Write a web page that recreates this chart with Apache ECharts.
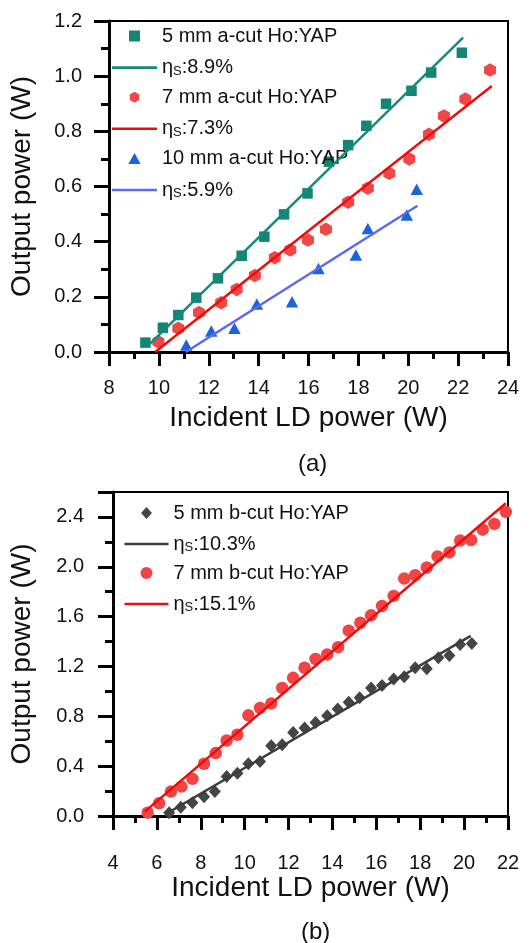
<!DOCTYPE html>
<html><head><meta charset="utf-8">
<script src="https://cdn.jsdelivr.net/npm/echarts@6/dist/echarts.min.js"></script>
<style>html,body{margin:0;padding:0;background:#fff;}#c{width:531px;height:943px;}</style>
</head><body><div id="c"></div>
<script>
// ---- Panel (a): a-cut Ho:YAP ----
const aX5 = [9.46,10.16,10.78,11.5,12.37,13.32,14.23,15.02,15.96,16.82,17.59,18.32,19.11,20.13,20.92,22.15];
const aY5 = [0.034,0.088,0.134,0.197,0.267,0.349,0.418,0.499,0.575,0.69,0.75,0.82,0.90,0.947,1.013,1.085];
const aX7 = [9.98,10.78,11.61,12.5,13.12,13.85,14.65,15.27,15.98,16.7,17.59,18.38,19.24,20.04,20.83,21.43,22.29,23.28];
const aY7 = [0.037,0.086,0.143,0.179,0.227,0.277,0.342,0.37,0.406,0.445,0.543,0.594,0.648,0.70,0.789,0.856,0.917,1.022];
const aX10 = [11.1,12.1,13.03,13.93,15.34,16.4,17.9,18.38,19.94,20.34];
const aY10 = [0.025,0.076,0.086,0.174,0.182,0.303,0.352,0.448,0.497,0.59];
const fitA5X = [9.65,22.2],  fitA5Y = [0.03,1.14];
const fitA7X = [9.85,23.35], fitA7Y = [0,0.964];
const fitA10X = [11.08,20.37], fitA10Y = [0,0.53];
const namesA = ['5 mm a-cut Ho:YAP','ηS:8.9%','7 mm a-cut Ho:YAP','ηS:7.3%','10 mm a-cut Ho:YAP','ηS:5.9%'];

// ---- Panel (b): b-cut Ho:YAP ----
const bX5 = [6.56,7.09,7.62,8.15,8.64,9.18,9.67,10.17,10.7,11.21,11.71,12.21,12.73,13.23,13.76,14.24,14.74,15.24,15.76,16.26,16.79,17.27,17.77,18.3,18.83,19.33,19.82,20.35];
const bY5 = [0.027,0.07,0.107,0.155,0.196,0.316,0.343,0.419,0.437,0.564,0.572,0.671,0.706,0.751,0.805,0.859,0.912,0.948,1.028,1.047,1.1,1.117,1.19,1.181,1.27,1.288,1.377,1.385];
const bX7 = [5.58,6.1,6.64,7.12,7.62,8.15,8.68,9.18,9.67,10.17,10.7,11.21,11.71,12.21,12.73,13.23,13.76,14.26,14.74,15.27,15.76,16.26,16.79,17.27,17.77,18.3,18.79,19.33,19.82,20.32,20.85,21.38,21.9];
const bY7 = [0.027,0.102,0.196,0.236,0.298,0.419,0.505,0.606,0.652,0.808,0.867,0.902,1.028,1.109,1.19,1.26,1.296,1.355,1.487,1.551,1.61,1.685,1.766,1.905,1.932,1.994,2.083,2.115,2.21,2.215,2.298,2.344,2.44];
const fitB5X = [6.45,20.3], fitB5Y = [0.02,1.445];
const fitB7X = [5.45,21.9], fitB7Y = [0.035,2.51];
const namesB = ['5 mm b-cut Ho:YAP','ηS:10.3%','7 mm b-cut Ho:YAP','ηS:15.1%'];

const xTitle = 'Incident LD power (W)';
const yTitle = 'Output power (W)';

const zip = (xs, ys) => xs.map((x, i) => [x, ys[i]]);
const FONT = 'Liberation Sans, Arial, sans-serif';
const hexagon = 'path://M5,0 L10,2.9 L10,8.7 L5,11.6 L0,8.7 L0,2.9 Z';
const square = 'path://M0,0 L10,0 L10,10 L0,10 Z';
const triangle = 'path://M5,0 L10,9 L0,9 Z';
const diamond = 'path://M5,0 L10,5.5 L5,11 L0,5.5 Z';
const lineIcon = 'path://M0,0 L45,0 L45,2.6 L0,2.6 Z';

function legendFmt(n) {
  if (n.charAt(0) === 'η') return '{g|η}{s|S}{g|' + n.slice(2) + '}';
  return '{g|' + n + '}';
}
const legendRich = {
  g: {fontSize: 20, fontFamily: FONT, color: '#111', lineHeight: 20},
  s: {fontSize: 13, fontFamily: FONT, color: '#111', lineHeight: 20, verticalAlign: 'bottom', padding: [9, 0, 0, 0]}
};

function xAxis(gi, min, max, labelMargin) {
  return {
    type: 'value', gridIndex: gi, min: min, max: max, interval: 2, position: 'bottom',
    name: xTitle, nameLocation: 'middle', nameGap: 52,
    nameTextStyle: {fontSize: 28, fontFamily: FONT, color: '#111'},
    axisLine: {show: true, onZero: false, lineStyle: {color: '#000', width: 3}},
    axisTick: {show: true, inside: false, length: 14, lineStyle: {color: '#000', width: 3}},
    minorTick: {show: true, splitNumber: 2, length: 7, lineStyle: {color: '#000', width: 3}},
    axisLabel: {show: true, inside: false, fontSize: 20, fontFamily: FONT, color: '#111', margin: labelMargin},
    splitLine: {show: false}, minorSplitLine: {show: false}
  };
}
function yAxis(gi, max, interval, nameGap, labelMargin) {
  return {
    type: 'value', gridIndex: gi, min: 0, max: max, interval: interval, position: 'left',
    name: yTitle, nameLocation: 'middle', nameGap: nameGap, nameRotate: 90,
    nameTextStyle: {fontSize: 28, fontFamily: FONT, color: '#111'},
    axisLine: {show: true, onZero: false, lineStyle: {color: '#000', width: 3}},
    axisTick: {show: true, inside: false, length: 15, lineStyle: {color: '#000', width: 3}},
    minorTick: {show: true, splitNumber: 2, length: 8, lineStyle: {color: '#000', width: 3}},
    axisLabel: {show: true, inside: false, fontSize: 20, fontFamily: FONT, color: '#111', margin: labelMargin,
      showMaxLabel: max === 1.2, formatter: v => v.toFixed(1)},
    splitLine: {show: false}, minorSplitLine: {show: false}
  };
}
function scatter(name, xi, data, symbol, size, color) {
  return {type: 'scatter', name: name, xAxisIndex: xi, yAxisIndex: xi, data: data,
    symbol: symbol, symbolSize: size, itemStyle: {color: color, opacity: 1}, z: 3};
}
function fitLine(name, xi, data, color) {
  return {type: 'line', name: name, xAxisIndex: xi, yAxisIndex: xi, data: data,
    symbol: 'none', showSymbol: false, lineStyle: {color: color, width: 2.5},
    itemStyle: {color: color}, z: 4};
}
function legendItems(names, icons) {
  return names.map((n, i) => ({name: n, icon: icons[i]}));
}

const option = {
  backgroundColor: '#fff',
  animation: false,
  title: [
    {text: '(a)', left: 293, top: 447, textStyle: {fontSize: 24, fontWeight: 'normal', fontFamily: FONT, color: '#111'}},
    {text: '(b)', left: 296, top: 915, textStyle: {fontSize: 24, fontWeight: 'normal', fontFamily: FONT, color: '#111'}}
  ],
  grid: [
    {left: 105, right: 23, top: 21, bottom: 591, show: true, borderColor: '#000', borderWidth: 2, backgroundColor: 'transparent'},
    {left: 112, right: 23, top: 492, bottom: 127, show: true, borderColor: '#000', borderWidth: 2, backgroundColor: 'transparent'}
  ],
  xAxis: [xAxis(0, 8, 24, 26), xAxis(1, 4, 22, 37)],
  yAxis: [yAxis(0, 1.2, 0.2, 73, 27), yAxis(1, 2.6, 0.4, 77, 29)],
  legend: [
    {data: legendItems(namesA, [square, lineIcon, hexagon, lineIcon, triangle, lineIcon]),
      orient: 'vertical', left: 107, top: 21, padding: 5, itemWidth: 45, itemHeight: 11, itemGap: 9.6,
      itemStyle: {borderWidth: 0}, formatter: legendFmt, textStyle: {rich: legendRich}},
    {data: legendItems(namesB, [diamond, lineIcon, 'circle', lineIcon]),
      orient: 'vertical', left: 119.5, top: 498, padding: 5, itemWidth: 44, itemHeight: 12, itemGap: 9,
      textStyle: {rich: legendRich}, formatter: legendFmt, itemStyle: {borderWidth: 0}}
  ],
  series: [
    scatter(namesA[0], 0, zip(aX5, aY5), square, 10.5, '#138575'),
    fitLine(namesA[1], 0, zip(fitA5X, fitA5Y), '#158a7a'),
    scatter(namesA[2], 0, zip(aX7, aY7), hexagon, [12, 13.5], '#f04848'),
    fitLine(namesA[3], 0, zip(fitA7X, fitA7Y), '#ee0c0c'),
    scatter(namesA[4], 0, zip(aX10, aY10), triangle, [12.5, 11.5], '#1c64dc'),
    fitLine(namesA[5], 0, zip(fitA10X, fitA10Y), '#5a6af0'),
    scatter(namesB[0], 1, zip(bX5, bY5), diamond, [12, 13], '#454545'),
    fitLine(namesB[1], 1, zip(fitB5X, fitB5Y), '#3c3c3c'),
    scatter(namesB[2], 1, zip(bX7, bY7), 'circle', 12.5, '#f24444'),
    fitLine(namesB[3], 1, zip(fitB7X, fitB7Y), '#ee0c0c')
  ]
};
const chart = echarts.init(document.getElementById('c'), null, {renderer: 'canvas'});
chart.setOption(option);
</script></body></html>
